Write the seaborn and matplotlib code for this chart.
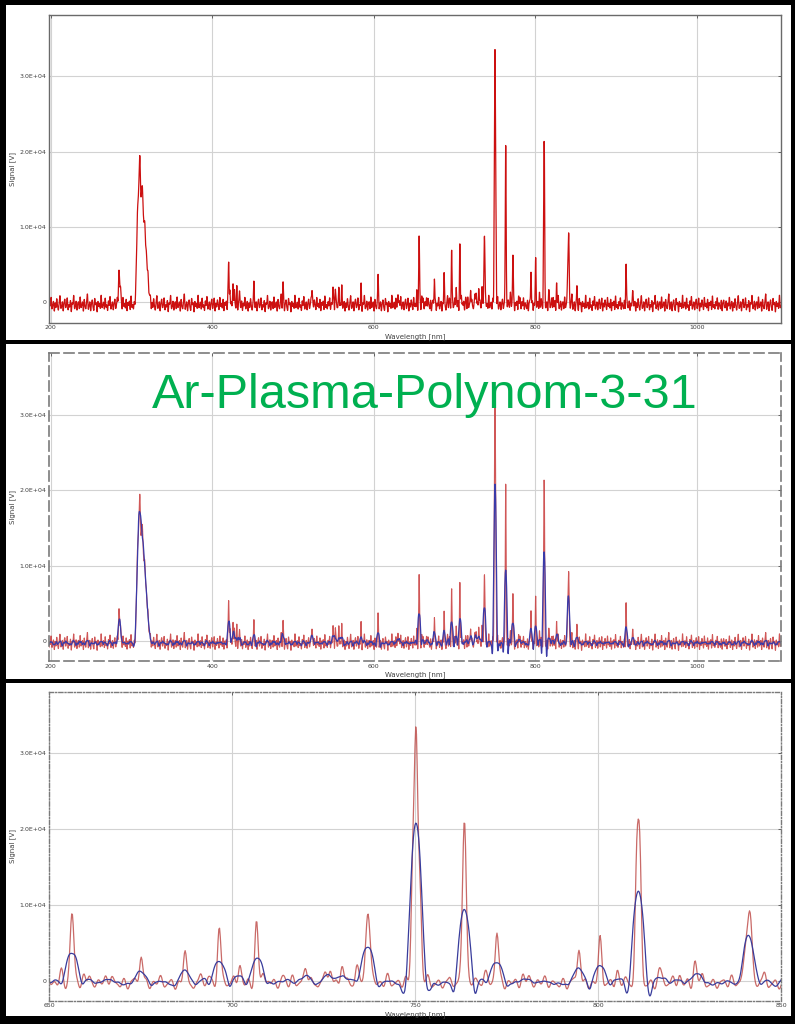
import numpy as np
import pandas as pd
import matplotlib
matplotlib.use("Agg")
import matplotlib.pyplot as plt
from matplotlib.patches import Rectangle
import seaborn as sns

# emission lines: centre [nm], height [V], width (sigma) [nm]
line_wl = [284.6, 286.5,
           306.8, 308.0, 309.2, 310.3, 311.5, 312.6, 313.6, 314.7, 315.8, 316.9, 318.0, 319.2, 320.4, 321.6, 322.8, 324.0,
           420.4, 422.0, 426.0, 427.5, 430.5, 434.0, 451.8, 487.7, 523.6, 549.6, 552.5, 557.0, 560.5, 584.3, 605.4, 630.2,
           653.3, 656.3, 660.9, 667.0, 675.2, 687.1, 693.6, 696.5, 702.1, 706.7, 709.8, 713.9, 720.2, 726.8, 730.0, 734.0,
           737.2, 749.4, 750.3, 751.3, 763.5, 769.0, 772.4, 781.0, 794.8, 800.6, 805.2, 810.6, 811.4, 816.8, 822.2, 826.5,
           840.5, 841.6, 851.8, 912.5, 921.1]
line_height = [4300, 1500,
               6500, 7200, 7300, 12500, 6800, 6000, 8600, 5100, 5600, 5100, 3800, 3100, 1600, 1200, 500, 300,
               5900, 2200, 2400, 1800, 2000, 1600, 2200, 3100, 2700, 2800, 1800, 2300, 1700, 2400, 2600, 1900,
               1300, 9300, 1100, 900, 3800, 3800, 1100, 7100, 2500, 8000, 700, 700, 2400, 2100, 2500, 2100,
               9800, 15000, 31500, 12000, 22300, 1100, 7000, 1100, 4700, 5300, 1600, 15500, 15500, 1600, 1100, 2700,
               5500, 7500, 2100, 5200, 1500]
line_sigma = ([0.8, 0.8] + [0.9] * 16 + [0.45] * 17
              + [0.5] + [0.45] * 14 + [0.6, 0.45, 0.45, 0.45, 0.5] + [0.45] * 11
              + [0.6, 0.6] + [0.45] * 3)

# background ripple of the detector, typed in by eye [V]
noise_amp = [-310, 420, -650, 180, -220, 760, -480, -90, 350, -720, 240, -380, 610, -150, -560, 90,
             880, -410, -260, 330, -690, 150, 520, -340, -120, 700, -590, 40, -300, 460, -780, 210,
             -60, 930, -450, -230, 380, -610, 120, 270, -510, 820, -360, -20, 290, -740, 560, -190,
             -420, 180, 1050, -530, -140, 310, -670, 80, 450, -280, -600, 640, -100, 220, -800, 370,
             -250, 160, -470, 990, -380, -70, 260, -540, 700, -330, 30, -640, 410, -200, 840, -490,
             -160, 300, -580, 110, 530, -430, -40, 670, -720, 190, -310, 480, -90, -550, 760, -260,
             140, -410, 600, -700, 250, -150, 380, -620, 920, -360, 60, -480, 330, -230, 720, -560,
             200, -80, -450, 510, -690, 170, 420, -300]
noise_gain = 1.35
baseline = -250

xticks_full = [200, 400, 600, 800, 1000]
xticks_zoom = [650, 700, 750, 800, 850]
yticks = [0, 10000, 20000, 30000]
ytick_labels = ["0", "1.0E+04", "2.0E+04", "3.0E+04"]
title = "Ar-Plasma-Polynom-3-31"

W, H = 795, 1024


def savgol(y, window=31, order=3):
    # Savitzky-Golay smoothing, polynomial 3, 31 points
    m = window // 2
    k = np.arange(-m, m + 1)
    coeffs = np.linalg.pinv(np.vander(k, order + 1, increasing=True))[0]
    return np.convolve(np.pad(y, m, mode="edge"), coeffs, mode="valid")


wl = np.arange(195.0, 1105.0, 0.2)
sig = np.full_like(wl, baseline, dtype=float)
noise_pos = np.arange(195.5, 1105.0, 1.0)
for c, a in zip(noise_pos, np.resize(noise_amp, len(noise_pos))):
    sig += noise_gain * a * np.exp(-0.5 * ((wl - c) / 0.45) ** 2)
for c, a, s in zip(line_wl, line_height, line_sigma):
    sig += a * np.exp(-0.5 * ((wl - c) / s) ** 2)

df = pd.DataFrame({"wl": wl, "raw": sig, "smooth": savgol(sig)})


def px_rect(left, top, right, bottom):
    return [left / W, 1 - bottom / H, (right - left) / W, (bottom - top) / H]


sns.set_style("white")
fig = plt.figure(figsize=(W / 100, H / 100), dpi=100)
fig.patch.set_facecolor("black")

for top, bottom in [(5, 340), (344, 679), (683, 1016)]:
    fig.add_artist(Rectangle((5.5 / W, 1 - bottom / H), 785 / W, (bottom - top) / H,
                             transform=fig.transFigure, facecolor="white", edgecolor="none", zorder=0))

axes = [fig.add_axes(px_rect(49, 14.5, 781, 322.5)),
        fig.add_axes(px_rect(49, 353.3, 781, 661)),
        fig.add_axes(px_rect(49, 691.7, 781, 1000.7))]

spine_styles = ["-", (0, (6, 3)), (0, (3, 1.5, 0.7, 1.5))]
for i, ax in enumerate(axes):
    zoom = i == 2
    d = df[(df.wl >= 648) & (df.wl <= 852)] if zoom else df
    if i == 0:
        sns.lineplot(data=d, x="wl", y="raw", ax=ax, color="#cc1010", lw=0.9, estimator=None, sort=False)
    else:
        sns.lineplot(data=d, x="wl", y="raw", ax=ax, color="#c83a3a" if i == 1 else "#c0504d",
                     lw=0.8 if i == 1 else 0.9, alpha=0.85, estimator=None, sort=False)
        sns.lineplot(data=d, x="wl", y="smooth", ax=ax, color="#3a3aa8" if i == 1 else "#383c9c",
                     lw=0.9, estimator=None, sort=False)

    ax.set_facecolor("white")
    ax.set_xlim((650, 850) if zoom else (197.9, 1104.4))
    ax.set_ylim(-2650, 38150)
    ax.set_xticks(xticks_zoom if zoom else xticks_full)
    ax.set_yticks(yticks)
    ax.set_yticklabels(ytick_labels)
    ax.grid(True, color="#d2d2d2", lw=0.8)
    ax.set_axisbelow(True)
    ax.tick_params(direction="in", length=2.5, width=0.6, labelsize=4.5, labelcolor="#404040",
                   color="#505050", top=True, right=True, pad=2)
    for sp in ax.spines.values():
        sp.set_visible(True)
        sp.set_color("#6a6a6a" if i == 0 else "#7a7a7a")
        sp.set_linewidth(1.0 if i != 1 else 1.2)
        sp.set_linestyle(spine_styles[i])
    ax.set_xlabel("Wavelength [nm]", fontsize=5, color="#404040")
    ax.set_ylabel("Signal [V]", fontsize=5, color="#404040")
    ax.xaxis.set_label_coords(0.5, -10.5 / 308)
    ax.yaxis.set_label_coords(-33 / 732, 0.5)

fig.text(152 / W, 1 - 408.3 / H, title, fontsize=35.0, family=["Liberation Sans", "DejaVu Sans"],
         color="#00b050", va="baseline", ha="left")

fig.savefig("out.png", dpi=100, facecolor=fig.get_facecolor())
